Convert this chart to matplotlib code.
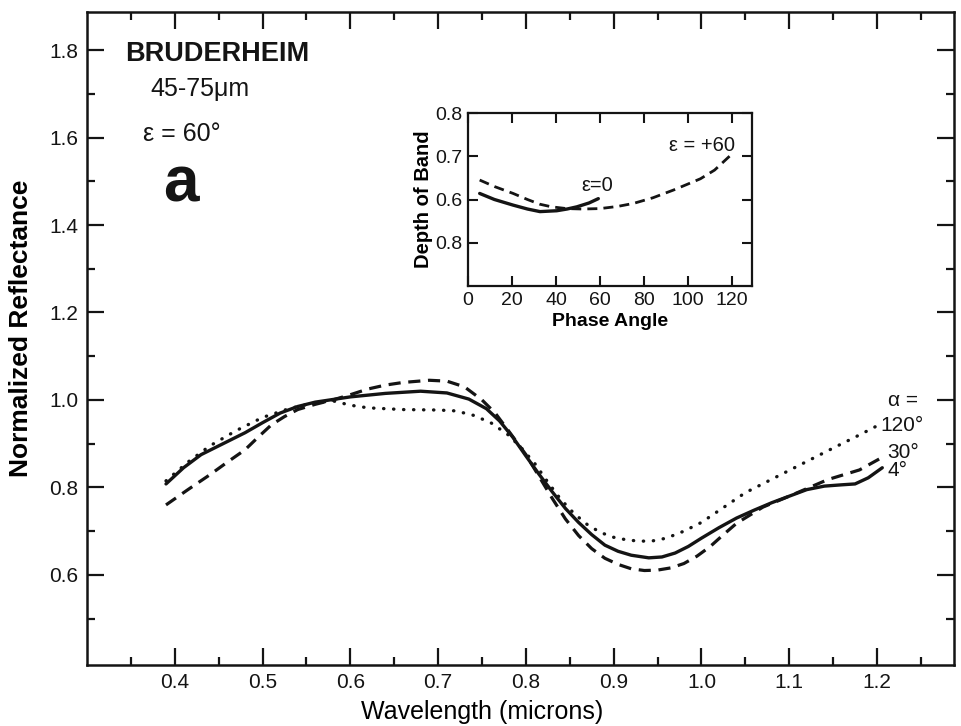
import matplotlib
matplotlib.use("Agg")
import matplotlib.pyplot as plt
from matplotlib.ticker import FixedLocator

plt.rcParams['font.family'] = ['Liberation Sans', 'DejaVu Sans']

# ---- main spectra data ----
wl_4 = [0.39, 0.41, 0.43, 0.455, 0.48, 0.50, 0.52, 0.54, 0.56, 0.60, 0.64, 0.68, 0.71, 0.735, 0.755,
        0.77, 0.785, 0.80, 0.815, 0.83, 0.845, 0.86, 0.875, 0.89, 0.905, 0.92, 0.94, 0.955, 0.97,
        0.985, 1.00, 1.02, 1.04, 1.06, 1.08, 1.10, 1.12, 1.14, 1.16, 1.175, 1.19, 1.206]
r_4 = [0.808, 0.845, 0.875, 0.900, 0.925, 0.948, 0.970, 0.985, 0.995, 1.007, 1.015, 1.020, 1.016, 1.002, 0.980,
       0.952, 0.915, 0.872, 0.830, 0.790, 0.752, 0.720, 0.692, 0.668, 0.654, 0.645, 0.639, 0.641, 0.650,
       0.665, 0.684, 0.708, 0.730, 0.748, 0.765, 0.780, 0.795, 0.803, 0.806, 0.808, 0.822, 0.845]

wl_30 = [0.39, 0.415, 0.44, 0.46, 0.48, 0.495, 0.51, 0.525, 0.54, 0.56, 0.58, 0.60, 0.62, 0.64, 0.66, 0.69,
         0.71, 0.73, 0.75, 0.765, 0.78, 0.80, 0.815, 0.83, 0.845, 0.86, 0.875, 0.89, 0.905, 0.92, 0.935,
         0.95, 0.965, 0.98, 0.995, 1.01, 1.025, 1.04, 1.07, 1.10, 1.144, 1.18, 1.207]
r_30 = [0.760, 0.795, 0.829, 0.858, 0.886, 0.915, 0.943, 0.962, 0.978, 0.990, 1.000, 1.012, 1.025, 1.034, 1.040, 1.045,
        1.043, 1.030, 1.000, 0.970, 0.930, 0.875, 0.825, 0.775, 0.728, 0.690, 0.660, 0.638, 0.624, 0.614, 0.610,
        0.611, 0.616, 0.626, 0.643, 0.665, 0.692, 0.718, 0.755, 0.780, 0.818, 0.840, 0.870]

wl_120 = [0.39, 0.415, 0.44, 0.47, 0.50, 0.53, 0.555, 0.58, 0.60, 0.62, 0.66, 0.70, 0.72, 0.74, 0.76, 0.78,
          0.795, 0.81, 0.825, 0.84, 0.855, 0.87, 0.885, 0.90, 0.915, 0.93, 0.945, 0.96, 0.98, 1.00,
          1.05, 1.10, 1.15, 1.18, 1.206]
r_120 = [0.815, 0.858, 0.895, 0.930, 0.960, 0.980, 0.992, 0.998, 0.988, 0.982, 0.978, 0.977, 0.975, 0.965, 0.948, 0.920,
         0.890, 0.855, 0.812, 0.772, 0.740, 0.715, 0.697, 0.686, 0.680, 0.677, 0.678, 0.684, 0.700, 0.720,
         0.788, 0.839, 0.890, 0.920, 0.947]

x_ticks = [0.4, 0.5, 0.6, 0.7, 0.8, 0.9, 1.0, 1.1, 1.2]
x_ticklabels = ["0.4", "0.5", "0.6", "0.7", "0.8", "0.9", "1.0", "1.1", "1.2"]
y_ticks = [0.6, 0.8, 1.0, 1.2, 1.4, 1.6, 1.8]
y_ticklabels = ["0.6", "0.8", "1.0", "1.2", "1.4", "1.6", "1.8"]
x_minor = [0.35, 0.45, 0.55, 0.65, 0.75, 0.85, 0.95, 1.05, 1.15, 1.25]
y_minor = [0.5, 0.7, 0.9, 1.1, 1.3, 1.5, 1.7]

# ---- inset data ----
ph_e0 = [5.3, 12, 20.5, 27, 32.7, 40.3, 45, 49.4, 55, 59.2]
d_e0 = [0.614, 0.600, 0.587, 0.578, 0.572, 0.574, 0.578, 0.583, 0.592, 0.602]
ph_e60 = [5.3, 12, 20.5, 27, 32.7, 38, 44.8, 52, 60, 68, 75.2, 84, 93.4, 100, 105.6, 112, 119.2]
d_e60 = [0.645, 0.630, 0.614, 0.600, 0.589, 0.583, 0.579, 0.578, 0.579, 0.584, 0.591, 0.604, 0.622, 0.636, 0.648, 0.668, 0.702]
inset_xticks = [0, 20, 40, 60, 80, 100, 120]
inset_yticks = [0.5, 0.6, 0.7, 0.8]
inset_yticklabels = ["0.8", "0.6", "0.7", "0.8"]

W, H = 961, 726
fig = plt.figure(figsize=(W / 100, H / 100), dpi=100)

def pos(l, r, t, b):
    return [l / W, 1 - b / H, (r - l) / W, (b - t) / H]

ink = '#141414'
ax = fig.add_axes(pos(87, 954, 12, 665))
ax.set_xlim(0.30, 1.2877)
ax.set_ylim(0.394, 1.887)

ax.plot(wl_4, r_4, color=ink, lw=2.4, solid_capstyle='round', solid_joinstyle='round')
ax.plot(wl_30, r_30, color=ink, lw=2.3, linestyle=(0, (3.8, 2.4)))
ax.plot(wl_120, r_120, color=ink, lw=2.4, linestyle=(0, (0.1, 2.9)), dash_capstyle='round')

ax.set_xticks(x_ticks)
ax.set_xticklabels(x_ticklabels)
ax.set_yticks(y_ticks)
ax.set_yticklabels(y_ticklabels)
ax.xaxis.set_minor_locator(FixedLocator(x_minor))
ax.yaxis.set_minor_locator(FixedLocator(y_minor))
ax.tick_params(which='both', direction='in', top=True, right=True, width=1.6, colors=ink)
ax.tick_params(which='major', length=12, labelsize=15, pad=6)
ax.tick_params(which='minor', length=6)
for s in ax.spines.values():
    s.set_linewidth(1.8)
    s.set_color(ink)

ax.set_xlabel("Wavelength (microns)", fontsize=18)
ax.xaxis.set_label_coords(0.456, -0.053)
ax.set_ylabel("Normalized Reflectance", fontsize=19, fontweight='bold')
ax.yaxis.set_label_coords(-0.062, 0.515)

ax.text(0.3433, 1.791, "BRUDERHEIM", fontsize=19.5, fontweight='heavy',
        ha='left', va='center', color=ink)
ax.text(0.3718, 1.711, "45-75\u03bcm", fontsize=18, ha='left', va='center', color=ink)
ax.text(0.3638, 1.608, "\u03b5 = 60\u00b0", fontsize=18, ha='left', va='center', color=ink)
ax.text(0.3866, 1.493, "a", fontsize=46, fontweight='bold', ha='left', va='center', color=ink)

ax.text(1.212, 0.998, "\u03b1 =", fontsize=15, ha='left', va='center', color=ink)
ax.text(1.204, 0.941, "120\u00b0", fontsize=15, ha='left', va='center', color=ink)
ax.text(1.212, 0.879, "30\u00b0", fontsize=15, ha='left', va='center', color=ink)
ax.text(1.212, 0.838, "4\u00b0", fontsize=15, ha='left', va='center', color=ink)

# ---- inset ----
ins = fig.add_axes(pos(468, 752, 113, 286))
ins.set_xlim(0, 129)
ins.set_ylim(0.40, 0.80)
ins.plot(ph_e0, d_e0, color=ink, lw=2.4, solid_capstyle='round')
ins.plot(ph_e60, d_e60, color=ink, lw=2.0, linestyle=(0, (3.6, 2.2)))
ins.set_xticks(inset_xticks)
ins.set_yticks(inset_yticks)
ins.set_yticklabels(inset_yticklabels)
ins.tick_params(direction='in', top=True, right=True, length=7, width=1.5, labelsize=14, pad=4, colors=ink)
for s in ins.spines.values():
    s.set_linewidth(1.6)
    s.set_color(ink)
ins.set_xlabel("Phase Angle", fontsize=14, fontweight='bold', labelpad=3)
ins.set_ylabel("Depth of Band", fontsize=14.5, fontweight='bold', labelpad=2)
ins.text(51.6, 0.633, "\u03b5=0", fontsize=14.5, ha='left', va='center', color=ink)
ins.text(91.1, 0.725, "\u03b5 = +60", fontsize=14.5, ha='left', va='center', color=ink)

fig.savefig("out.png", dpi=100)
